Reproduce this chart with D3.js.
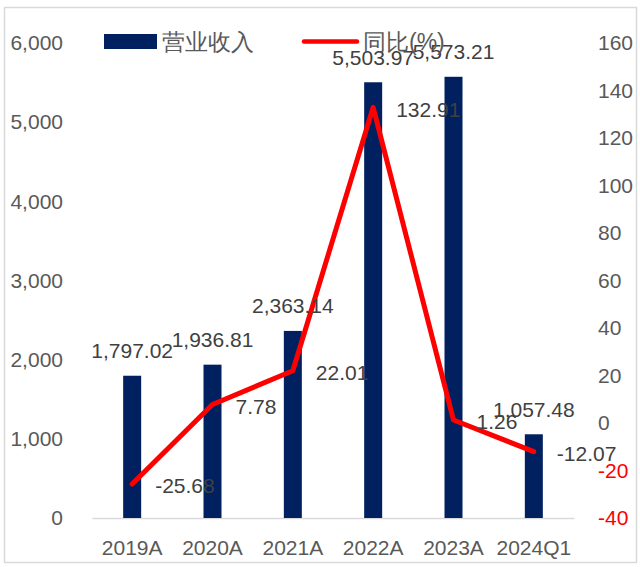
<!DOCTYPE html>
<html><head><meta charset="utf-8">
<script src="https://cdn.jsdelivr.net/npm/d3@7"></script>
<style>body{margin:0;background:#fff}svg{display:block}text{font-family:"Liberation Sans",Arial,sans-serif}</style>
</head><body><svg id="c" width="640" height="567"></svg>
<script>
const categories = ["2019A","2020A","2021A","2022A","2023A","2024Q1"];
const revenue = [1797.02,1936.81,2363.14,5503.97,5573.21,1057.48];
const yoy = [-25.68,7.78,22.01,132.91,1.26,-12.07];
const leftTicks = [0,1000,2000,3000,4000,5000,6000];
const rightTicks = [-40,-20,0,20,40,60,80,100,120,140,160];
const legendLabels = ["营业收入","同比(%)"];

const loc = d3.formatLocale({decimal:".",thousands:",",grouping:[3],currency:["",""],minus:"-"});
const svg = d3.select("#c");
const gray = "#595959", dark = "#404040", navy = "#002060", red = "#FF0000";
const fs = 21;

svg.append("rect").attr("x",4.5).attr("y",7.5).attr("width",632).attr("height",555)
  .attr("fill","none").attr("stroke","#D9D9D9").attr("stroke-width",1.5);

const x = d3.scaleBand().domain(categories).range([92,574]);
const yL = d3.scaleLinear().domain([0,6000]).range([518,43]);
const yR = d3.scaleLinear().domain([-40,160]).range([518,43]);
const bw = 18;

// left axis
const axL = svg.append("g").attr("transform","translate(63,0)")
  .call(d3.axisLeft(yL).tickValues(leftTicks).tickSize(0).tickPadding(0).tickFormat(loc.format(",")));
axL.select(".domain").remove();
axL.selectAll("text").attr("font-size",fs).attr("fill",gray).attr("font-family","Liberation Sans, Arial");

// right axis
const axR = svg.append("g").attr("transform","translate(598,0)")
  .call(d3.axisRight(yR).tickValues(rightTicks).tickSize(0).tickPadding(0).tickFormat(loc.format("d")));
axR.select(".domain").remove();
axR.selectAll("text").attr("font-size",fs).attr("font-family","Liberation Sans, Arial")
  .attr("fill",d=>d<0?red:gray);

// x axis
const axX = svg.append("g").attr("transform","translate(0,518)")
  .call(d3.axisBottom(x).tickSize(0).tickPadding(22));
axX.select(".domain").attr("stroke","#D9D9D9").attr("stroke-width",1.5);
axX.selectAll("text").attr("font-size",fs).attr("fill",gray).attr("font-family","Liberation Sans, Arial");

// bars
svg.append("g").selectAll("rect").data(revenue).join("rect")
  .attr("x",(d,i)=>x(categories[i])+x.bandwidth()/2-bw/2)
  .attr("width",bw)
  .attr("y",d=>yL(d)).attr("height",d=>yL(0)-yL(d))
  .attr("fill",navy);

// line
const line = d3.line().x((d,i)=>x(categories[i])+x.bandwidth()/2).y(d=>yR(d));
svg.append("path").datum(yoy).attr("d",line).attr("fill","none")
  .attr("stroke",red).attr("stroke-width",5).attr("stroke-linejoin","round").attr("stroke-linecap","round");

// bar labels
svg.append("g").selectAll("text").data(revenue).join("text")
  .attr("x",(d,i)=>x(categories[i])+x.bandwidth()/2)
  .attr("y",d=>yL(d)-25).attr("dy","0.35em")
  .attr("text-anchor","middle").attr("font-size",fs).attr("fill",dark)
  .text(d=>loc.format(",.2f")(d));

// line labels
svg.append("g").selectAll("text").data(yoy).join("text")
  .attr("x",(d,i)=>x(categories[i])+x.bandwidth()/2+23)
  .attr("y",d=>yR(d)+2).attr("dy","0.35em")
  .attr("text-anchor","start").attr("font-size",fs).attr("fill",dark)
  .text(d=>loc.format(".2f")(d));

// legend
const lg = svg.append("g");
lg.append("rect").attr("x",104).attr("y",34).attr("width",53).attr("height",15).attr("fill",navy);
lg.append("text").attr("x",162).attr("y",42).attr("dy","0.35em").attr("font-size",23).attr("fill",gray)
  .attr("font-family","Noto Sans CJK SC").text(legendLabels[0]);
lg.append("line").attr("x1",304).attr("x2",357).attr("y1",41.5).attr("y2",41.5)
  .attr("stroke",red).attr("stroke-width",4.5).attr("stroke-linecap","round");
lg.append("text").attr("x",363).attr("y",42).attr("dy","0.35em").attr("font-size",23).attr("fill",gray)
  .attr("font-family","Noto Sans CJK SC").text(legendLabels[1]);
</script></body></html>
